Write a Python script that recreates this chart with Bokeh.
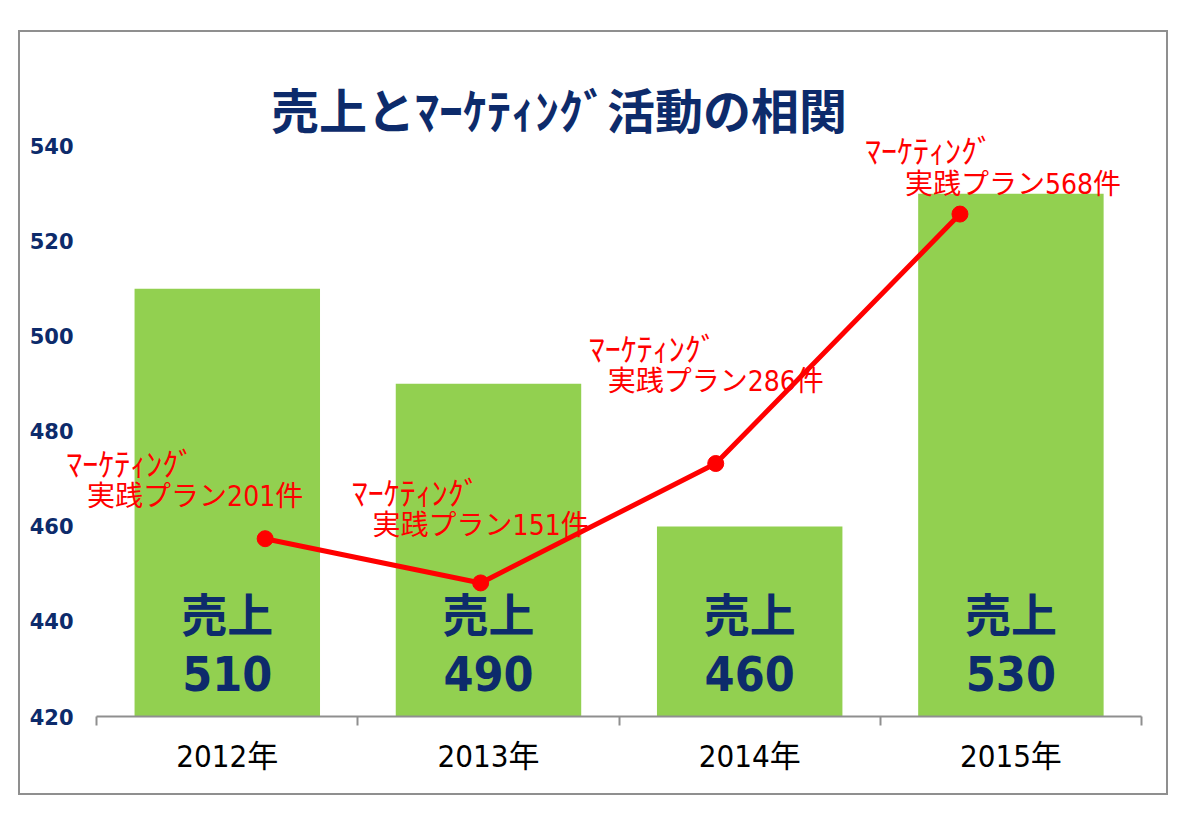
from bokeh.plotting import figure
from bokeh.models import Range1d, FixedTicker, ColumnDataSource, Label
from bokeh.core.properties import value
from bokeh.embed import file_html
from bokeh.resources import INLINE

# ---- data ----
years = ["2012年", "2013年", "2014年", "2015年"]
sales = [510, 490, 460, 530]
plans = [201, 151, 286, 568]
y_ticks = [420, 440, 460, 480, 500, 520, 540]
title_text = "売上とﾏｰｹﾃｨﾝｸﾞ活動の相関"
sales_word = "売上"
plan_top_word = "ﾏｰｹﾃｨﾝｸﾞ"
plan_word = "実践プラン"
plan_unit = "件"

# ---- layout tuning (not data) ----
line_shift = [0.145, -0.03, -0.13, -0.195]
lab_dx = [-70, 0, 0, 53]
lab_dy = [42, 57, 82, 30]
top_dx = [-65, -65, -63, -84]

NAVY = "#0D2B6B"
RED = "#FF0000"
GREEN = "#92D050"
NARROW = "'Liberation Sans Narrow', 'DejaVu Sans Condensed', 'Noto Sans CJK JP'"
CJK = "'Noto Sans CJK JP'"

idx = list(range(len(years)))

p = figure(width=1150, height=765, output_backend="svg", toolbar_location=None,
           x_range=Range1d(-0.6385, 3.5), y_range=Range1d(420, 563.5),
           min_border_left=40, min_border_right=29, min_border_top=2, min_border_bottom=81)
p.margin = (30, 0, 0, 18)
p.styles = {"border": "2px solid #8f8f8f", "box-sizing": "border-box"}
p.outline_line_color = None
p.xgrid.visible = False
p.ygrid.visible = False
p.background_fill_color = "white"
p.border_fill_color = "white"

p.extra_y_ranges = {"plans": Range1d(0, 771)}

# bars
bar_src = ColumnDataSource(dict(x=idx, top=sales, bottom=[p.y_range.start] * 4,
                                word=[sales_word] * 4, num=[str(s) for s in sales]))
p.vbar(x="x", top="top", bottom="bottom", width=0.71, fill_color=GREEN, line_color=None, source=bar_src)
p.text(x="x", y="bottom", text="word", source=bar_src, text_align="center", text_baseline="middle",
       y_offset=-105, text_font=value(CJK), text_font_style="bold", text_font_size="46px", text_color=NAVY)
p.text(x="x", y="bottom", text="num", source=bar_src, text_align="center", text_baseline="middle",
       y_offset=-43, text_font=value(NARROW), text_font_style="bold", text_font_size="48px", text_color=NAVY)

# line
line_src = ColumnDataSource(dict(
    x=[i + s for i, s in zip(idx, line_shift)], y=plans,
    lab=[f"{plan_word}{v}{plan_unit}" for v in plans], top=[plan_top_word] * 4,
    dx=lab_dx, dy=[-d for d in lab_dy],
    tdx=[a + b for a, b in zip(lab_dx, top_dx)], tdy=[-d - 35 for d in lab_dy]))
p.line(x="x", y="y", source=line_src, y_range_name="plans", line_color=RED, line_width=5)
p.scatter(x="x", y="y", source=line_src, y_range_name="plans", size=16, fill_color=RED, line_color=RED)
p.text(x="x", y="y", text="lab", source=line_src, y_range_name="plans", x_offset="dx", y_offset="dy",
       text_align="center", text_baseline="middle", text_font=value(NARROW),
       text_font_size="28px", text_color=RED)
p.text(x="x", y="y", text="top", source=line_src, y_range_name="plans", x_offset="tdx", y_offset="tdy",
       text_align="center", text_baseline="middle", text_font=value(CJK),
       text_font_size="32px", text_color=RED)

# title
p.add_layout(Label(x=1.27, y=548.0, text=title_text, text_align="center", text_baseline="middle",
                   text_font=CJK, text_font_style="bold", text_font_size="48px", text_color=NAVY))

# axes
xa = p.xaxis[0]
xa.bounds = (-0.5, 3.5)
xa.ticker = FixedTicker(ticks=idx, minor_ticks=[-0.5, 0.5, 1.5, 2.5, 3.5])
xa.major_label_overrides = {i: y for i, y in zip(idx, years)}
xa.major_tick_line_color = None
xa.minor_tick_in = 0
xa.minor_tick_out = 9
xa.minor_tick_line_color = "#8f8f8f"
xa.minor_tick_line_width = 2
xa.axis_line_color = "#8f8f8f"
xa.axis_line_width = 2
xa.major_label_text_font = NARROW
xa.major_label_text_font_size = "31px"
xa.major_label_text_color = "black"
xa.major_label_standoff = 12

ya = p.yaxis[0]
ya.ticker = FixedTicker(ticks=y_ticks)
ya.axis_line_color = None
ya.major_tick_line_color = None
ya.major_tick_out = 0
ya.major_tick_in = 0
ya.minor_tick_line_color = None
ya.minor_tick_out = 0
ya.major_label_text_font = "'DejaVu Sans'"
ya.major_label_text_font_style = "bold"
ya.major_label_text_font_size = "21px"
ya.major_label_text_color = NAVY
ya.major_label_standoff = -13

open("out.html", "w").write(file_html(p, INLINE))
